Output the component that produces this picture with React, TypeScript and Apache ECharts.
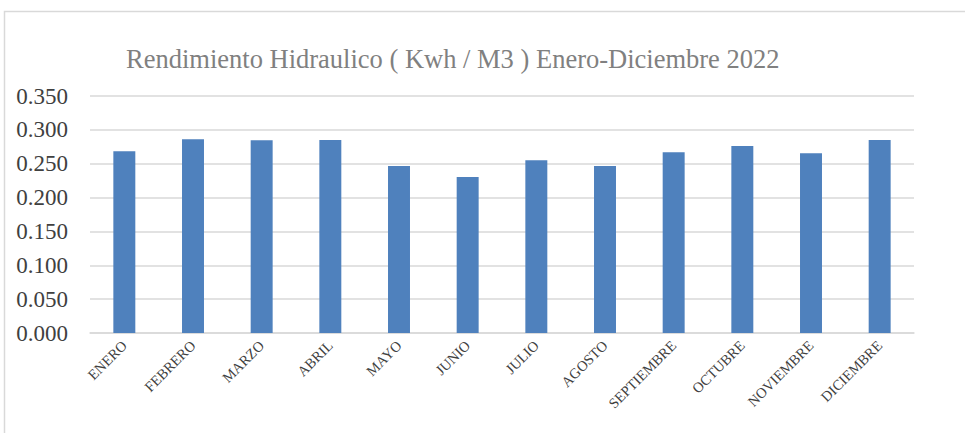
import React, { useEffect, useRef } from "react";
import * as echarts from "echarts";

const categories = ["ENERO", "FEBRERO", "MARZO", "ABRIL", "MAYO", "JUNIO", "JULIO", "AGOSTO", "SEPTIEMBRE", "OCTUBRE", "NOVIEMBRE", "DICIEMBRE"];
const values = [0.2685, 0.286, 0.2848, 0.2852, 0.2466, 0.2303, 0.2552, 0.2466, 0.267, 0.2763, 0.2655, 0.2852];
const titleText = "Rendimiento Hidraulico ( Kwh / M3 ) Enero-Diciembre 2022";
const SERIF = "Times New Roman, Liberation Serif, serif";

export default function App() {
  const ref = useRef<HTMLDivElement>(null);
  useEffect(() => {
    document.body.style.margin = "0";
    const chart = echarts.init(ref.current!, null, { renderer: "svg" });
    chart.setOption({
      animation: false,
      backgroundColor: "#ffffff",
      textStyle: { fontFamily: SERIF },
      graphic: [
        {
          type: "rect",
          shape: { x: 4.5, y: 11.5, width: 1000, height: 500 },
          style: { fill: "none", stroke: "#d9d9d9", lineWidth: 1.5 },
          silent: true,
        },
      ],
      title: {
        text: titleText,
        left: 121,
        top: 40,
        textStyle: {
          fontFamily: SERIF,
          fontSize: 26.5,
          fontWeight: "normal",
          color: "#808080",
        },
      },
      grid: { left: 90, right: 51, top: 96, bottom: 100, containLabel: false },
      xAxis: {
        type: "category",
        data: categories,
        axisTick: { show: false },
        axisLine: { lineStyle: { color: "#d9d9d9", width: 1.5 } },
        axisLabel: {
          interval: 0,
          rotate: 45,
          margin: 10,
          fontFamily: SERIF,
          fontSize: 14.5,
          color: "#404040",
        },
      },
      yAxis: {
        type: "value",
        min: 0,
        max: 0.35,
        interval: 0.05,
        axisLine: { show: false },
        axisTick: { show: false },
        splitLine: { lineStyle: { color: "#d9d9d9", width: 1.5 } },
        axisLabel: {
          formatter: (v: number) => v.toFixed(3),
          fontFamily: SERIF,
          fontSize: 23,
          color: "#404040",
          margin: 22,
        },
      },
      series: [
        {
          type: "bar",
          data: values,
          barWidth: "32%",
          itemStyle: { color: "#4f81bd" },
        },
      ],
    });
    return () => chart.dispose();
  }, []);
  return <div ref={ref} style={{ width: 965, height: 433 }} />;
}
